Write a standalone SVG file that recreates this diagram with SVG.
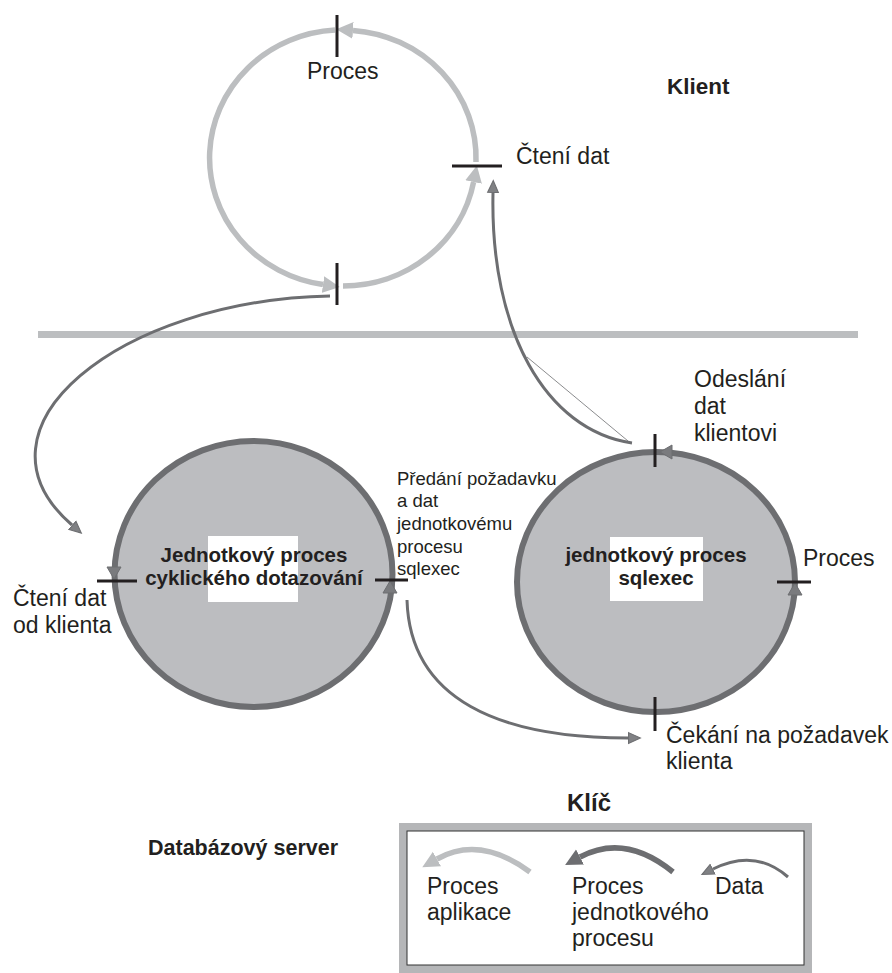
<svg xmlns="http://www.w3.org/2000/svg" xmlns:xlink="http://www.w3.org/1999/xlink" width="892" height="973" viewBox="0 0 892 973">
  <style>
    text { font-family: "Liberation Sans", Arial, sans-serif; fill: #231f20; }
    .lbl { font-size: 23px; }
    .small { font-size: 18.5px; }
    .bold { font-weight: bold; }
    .ttl { font-size: 22.5px; font-weight: bold; }
    .inner { font-size: 20.5px; font-weight: bold; text-anchor: middle; }
    .tick { stroke: #231f20; stroke-width: 3; fill: none; }
    .app { stroke: #bcbec0; stroke-width: 5.5; fill: none; }
    .unit { fill: #bcbdc0; stroke: #6d6e71; stroke-width: 6; }
    .data { stroke: #6d6e71; stroke-width: 3; fill: none; }
    .ahd { fill: #7a7b7e; stroke: #6d6e71; stroke-width: 1; }
  </style>
  <defs>
    <marker id="m-app" markerUnits="userSpaceOnUse" markerWidth="18" markerHeight="18" viewBox="0 -8 16 16" refX="0" refY="0" orient="auto">
      <path d="M0,-7.5 L15,0 L0,7.5 z" fill="#bcbec0"/>
    </marker>
    <marker id="m-unit" markerUnits="userSpaceOnUse" markerWidth="18" markerHeight="18" viewBox="0 -8 16 16" refX="0" refY="0" orient="auto">
      <path d="M0,-7.5 L15,0 L0,7.5 z" fill="#6d6e71"/>
    </marker>
    <marker id="m-data" markerUnits="userSpaceOnUse" markerWidth="14" markerHeight="14" viewBox="0 -6 13 12" refX="0" refY="0" orient="auto">
      <path d="M0.5,-5 L11.5,0 L0.5,5 z" fill="#808184" stroke="#6d6e71" stroke-width="1"/>
    </marker>
    <path id="ah" d="M0,-7 L12,0 L0,7 z"/>
  </defs>

  <!-- client / server divider -->
  <rect x="38" y="331" width="820" height="7" fill="#bcbec0"/>

  <!-- application process loop (client) -->
  <g id="client-process">
    <path class="app" d="M335,30.1 A133,128 0 0 0 323,284.5" marker-end="url(#m-app)"/>
    <path class="app" d="M343,286 A133,128 0 0 0 473.6,182" marker-end="url(#m-app)"/>
    <path class="app" d="M476,162 A133,128 0 0 0 353,30.4" marker-end="url(#m-app)"/>
    <line class="tick" x1="337" y1="15" x2="337" y2="57"/>
    <line class="tick" x1="337" y1="263" x2="337" y2="305"/>
    <line class="tick" x1="452" y1="166" x2="502" y2="166"/>
    <text class="lbl" x="307" y="79">Proces</text>
    <text class="lbl" x="516" y="164">Čtení dat</text>
  </g>

  <g id="client-title">
    <text class="ttl" x="667" y="94">Klient</text>
  </g>

  <!-- poll thread -->
  <g id="poll-thread">
    <ellipse class="unit" cx="253.5" cy="574" rx="139" ry="133"/>
    <rect x="208" y="536" width="90" height="66" fill="#ffffff"/>
    <text class="inner" x="254" y="562">Jednotkový proces</text>
    <text class="inner" x="254" y="585">cyklického dotazování</text>
    <use xlink:href="#ah" class="ahd" transform="translate(114,567) rotate(90)"/>
    <use xlink:href="#ah" class="ahd" transform="translate(390,593) rotate(-90)"/>
    <line class="tick" x1="97" y1="581" x2="137" y2="581"/>
    <line class="tick" x1="375" y1="580" x2="408" y2="580"/>
    <text class="lbl" x="13" y="606">Čtení dat</text>
    <text class="lbl" x="13" y="633">od klienta</text>
    <text class="small" x="397" y="485">Předání požadavku</text>
    <text class="small" x="397" y="507">a dat</text>
    <text class="small" x="397" y="530">jednotkovému</text>
    <text class="small" x="397" y="553">procesu</text>
    <text class="small" x="397" y="575">sqlexec</text>
  </g>

  <!-- sqlexec thread -->
  <g id="sqlexec-thread">
    <ellipse class="unit" cx="656" cy="582" rx="139" ry="130"/>
    <rect x="610" y="537" width="93" height="64" fill="#ffffff"/>
    <text class="inner" x="656" y="562">jednotkový proces</text>
    <text class="inner" x="656" y="585">sqlexec</text>
    <use xlink:href="#ah" class="ahd" transform="translate(672,452) rotate(180)"/>
    <use xlink:href="#ah" class="ahd" transform="translate(795,595) rotate(-90)"/>
    <line class="tick" x1="655" y1="434" x2="655" y2="467"/>
    <line class="tick" x1="777" y1="582" x2="811" y2="582"/>
    <line class="tick" x1="655" y1="697" x2="655" y2="731"/>
    <text class="lbl" x="694" y="387">Odeslání</text>
    <text class="lbl" x="694" y="414">dat</text>
    <text class="lbl" x="694" y="441">klientovi</text>
    <text class="lbl" x="803" y="566">Proces</text>
    <text class="lbl" x="666" y="743">Čekání na požadavek</text>
    <text class="lbl" x="666" y="769">klienta</text>
  </g>

  <g id="server-title">
    <text class="bold" font-size="21.5" x="148" y="855">Databázový server</text>
  </g>

  <!-- data flows -->
  <g id="connectors">
    <path class="data" d="M330,296 C120,300 -40,428 72,525" marker-end="url(#m-data)"/>
    <path class="data" d="M632,443 C545,430 490,330 493,193" marker-end="url(#m-data)"/>
    <line x1="527" y1="357" x2="628" y2="441" stroke="#6d6e71" stroke-width="0.8"/>
    <path class="data" d="M407,600 C410,700 500,738 628,738" marker-end="url(#m-data)"/>
  </g>

  <!-- key -->
  <g id="legend">
    <text class="bold" font-size="24" x="567" y="811">Klíč</text>
    <rect x="399" y="823" width="413" height="150" fill="#b5b6b8"/>
    <rect x="407" y="831" width="397" height="134" fill="#ffffff" stroke="#333333" stroke-width="1"/>
    <path class="app" d="M530,872 Q480,835 437,859" marker-end="url(#m-app)"/>
    <path d="M673,872 Q625,833 580,857" fill="none" stroke="#6d6e71" stroke-width="5.5" marker-end="url(#m-unit)"/>
    <path class="data" d="M788,877 Q755,848 713,869" marker-end="url(#m-data)"/>
    <text class="lbl" x="427" y="894">Proces</text>
    <text class="lbl" x="427" y="920">aplikace</text>
    <text class="lbl" x="572" y="894">Proces</text>
    <text class="lbl" x="572" y="920">jednotkového</text>
    <text class="lbl" x="572" y="946">procesu</text>
    <text class="lbl" x="715" y="894">Data</text>
  </g>
</svg>
